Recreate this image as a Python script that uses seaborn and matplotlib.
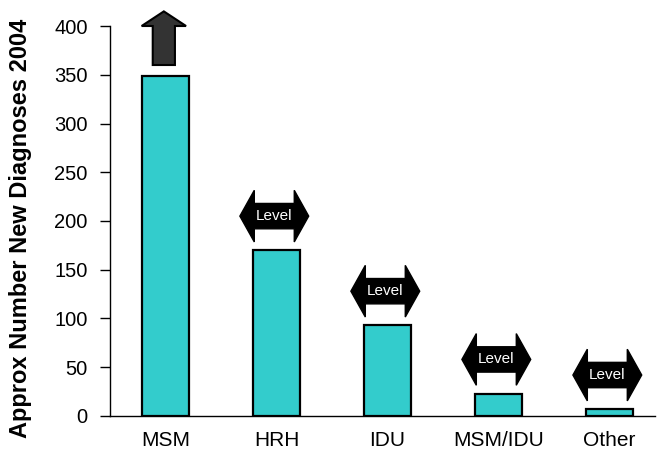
import matplotlib
matplotlib.use("Agg")
import matplotlib.pyplot as plt
from matplotlib.patches import Polygon
import seaborn as sns
import pandas as pd

# Data
categories = ["MSM", "HRH", "IDU", "MSM/IDU", "Other"]
diagnoses = [349, 170, 93, 23, 7]
trend = ["up", "level", "level", "level", "level"]

ytick_values = [0, 50, 100, 150, 200, 250, 300, 350, 400]

df = pd.DataFrame({"group": categories, "count": diagnoses})

sns.set_theme(style="white")
plt.rcParams["font.family"] = ["Liberation Sans", "DejaVu Sans"]
plt.rcParams["text.color"] = "black"
plt.rcParams["axes.labelcolor"] = "black"

fig = plt.figure(figsize=(6.61, 4.62), dpi=100)
ax = fig.add_axes([0.1664, 0.0996, 0.8246, 0.8441])

sns.barplot(data=df, x="group", y="count", color="#33CCCC", saturation=1,
            edgecolor="black", linewidth=1.6, width=0.42, ax=ax)

ax.set_xlim(-0.5, 4.41)
ax.set_ylim(0, 400)
ax.set_yticks(ytick_values)
ax.set_yticklabels([str(v) for v in ytick_values], fontsize=14.5)
ax.tick_params(axis="y", direction="out", length=7, width=1, pad=9,
               colors="black", left=True)
ax.tick_params(axis="x", length=0, pad=11, labelsize=15, colors="black")
ax.set_xlabel("")
ax.set_ylabel("Approx Number New Diagnoses 2004", fontsize=17,
              fontweight="bold", color="black")
ax.yaxis.set_label_coords(-0.143, 0.482)

for side in ("top", "right"):
    ax.spines[side].set_visible(False)
for side in ("left", "bottom"):
    ax.spines[side].set_color("black")
    ax.spines[side].set_linewidth(1.0)


def up_arrow(x, base):
    # shaft from base, head reaching 55 units above base
    sw, hw = 0.10, 0.20
    pts = [(x - sw, base), (x + sw, base), (x + sw, base + 40),
           (x + hw, base + 40), (x, base + 55), (x - hw, base + 40),
           (x - sw, base + 40)]
    ax.add_patch(Polygon(pts, closed=True, facecolor="#333333",
                         edgecolor="black", linewidth=1.5, clip_on=False,
                         zorder=5))


def level_arrow(x, yc):
    # double-headed horizontal arrow labelled "Level"
    half, body = 0.31, 0.18
    bh, hh = 13, 26.5
    pts = [(x - half, yc), (x - body, yc + hh), (x - body, yc + bh),
           (x + body, yc + bh), (x + body, yc + hh), (x + half, yc),
           (x + body, yc - hh), (x + body, yc - bh), (x - body, yc - bh),
           (x - body, yc - hh)]
    ax.add_patch(Polygon(pts, closed=True, facecolor="black",
                         edgecolor="black", linewidth=1, clip_on=False,
                         zorder=5))
    ax.text(x, yc, "Level", color="white", fontsize=11, ha="center",
            va="center", zorder=6)


for i, (val, kind) in enumerate(zip(diagnoses, trend)):
    if kind == "up":
        up_arrow(i - 0.015, val + 11)
    else:
        level_arrow(i - 0.02, val + 35)

fig.savefig("out.png", dpi=100)
